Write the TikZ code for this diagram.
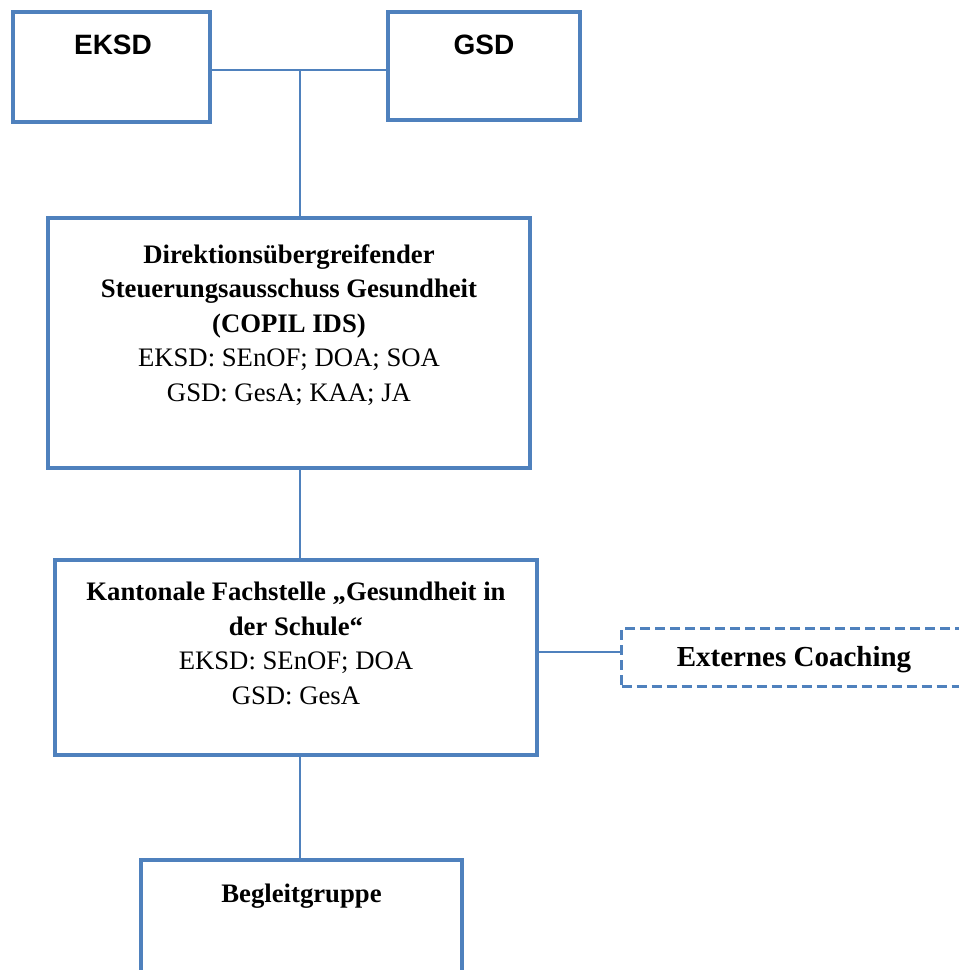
\documentclass[tikz,border=0pt]{standalone}
\usepackage{fontspec}
\setmainfont{Liberation Serif}
\newfontfamily\arialf{Liberation Sans}
\definecolor{boxblue}{HTML}{4F81BD}
\tikzset{
  box/.style={rectangle,draw=boxblue,line width=4pt,inner sep=0pt},
  dbox/.style={rectangle,draw=boxblue,line width=3pt,dash pattern=on 10pt off 5pt,inner sep=0pt},
  conn/.style={draw=boxblue,line width=1.8pt},
  sanslbl/.style={font=\arialf\bfseries\fontsize{28}{32}\selectfont,inner sep=0pt},
  serlbl/.style={font=\fontsize{26.7}{34.5}\selectfont,align=center,inner sep=0pt,anchor=north},
}
\begin{document}
\begin{tikzpicture}[x=1pt,y=-1pt]
\useasboundingbox (0,0) rectangle (959,970);
\begin{scope}
\clip (0,0) rectangle (959,970);
% boxes
\node[box,minimum width=197pt,minimum height=110pt] (eksd) at (111.5,67) {};
\node[box,minimum width=192pt,minimum height=108pt] (gsd) at (484,66) {};
\node[box,minimum width=482pt,minimum height=250pt] (mid) at (289,343) {};
\node[box,minimum width=482pt,minimum height=195pt] (kant) at (296,657.5) {};
\node[dbox,minimum width=360pt,minimum height=58pt,anchor=west] (ext) at (620,657) {};
\node[box,minimum width=321pt,minimum height=120pt,anchor=north] (beg) at (301.5,858) {};
% texts
\node[sanslbl] (teksd) at (113,45) {EKSD};
\node[sanslbl] (tgsd) at (484,45) {GSD};
\node[serlbl] (tmid) at (289,244) {\textbf{Direktionsübergreifender}\\\textbf{Steuerungsausschuss Gesundheit}\\\textbf{(COPIL IDS)}\\EKSD: SEnOF; DOA; SOA\\GSD: GesA; KAA; JA};
\node[serlbl] (tkant) at (296,582) {\textbf{Kantonale Fachstelle „Gesundheit in}\\\textbf{der Schule“}\\EKSD: SEnOF; DOA\\GSD: GesA};
\node[font=\bfseries\fontsize{29}{34}\selectfont,inner sep=0pt] (text) at (794,660) {Externes Coaching};
\node[serlbl] (tbeg) at (301.5,884) {\textbf{Begleitgruppe}};
% connectors
\coordinate (j) at (300,70);
\draw[conn] (eksd.east |- j) -- (gsd.west |- j);
\draw[conn] (j) -- (j |- mid.north);
\draw[conn] (mid.south -| j) -- (kant.north -| j);
\draw[conn] (kant.south -| j) -- (beg.north -| j);
\draw[conn] (kant.east |- 0,652) -- (ext.west |- 0,652);
\end{scope}
\end{tikzpicture}
\end{document}
